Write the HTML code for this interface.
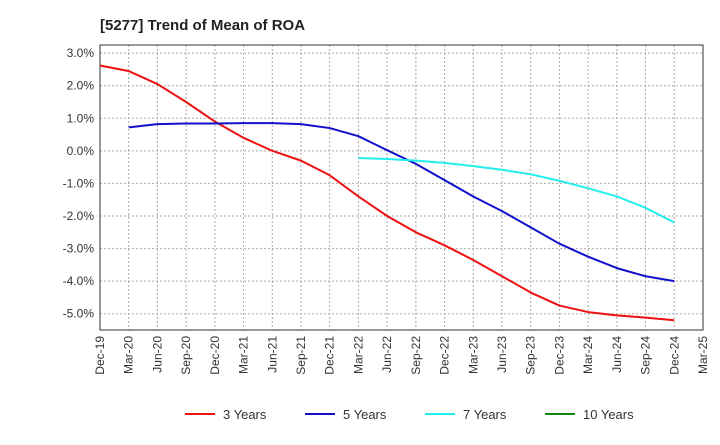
<!DOCTYPE html>
<html><head><meta charset="utf-8"><style>
body{margin:0;background:#fff;font-family:"Liberation Sans",sans-serif;}
text{font-family:"Liberation Sans",sans-serif;}
</style></head><body>
<svg id="chart" width="720" height="440">
<text x="100" y="30" font-size="15" font-weight="bold" fill="#222">[5277]  Trend of Mean of ROA</text>
<g id="grid"></g><g id="axes"></g><g id="series"></g><g id="legend"></g>
</svg>
<script>
const xLabels=["Dec-19","Mar-20","Jun-20","Sep-20","Dec-20","Mar-21","Jun-21","Sep-21","Dec-21","Mar-22","Jun-22","Sep-22","Dec-22","Mar-23","Jun-23","Sep-23","Dec-23","Mar-24","Jun-24","Sep-24","Dec-24","Mar-25"];
const yTicks=[3,2,1,0,-1,-2,-3,-4,-5];
const s3=[2.62,2.45,2.05,1.5,0.9,0.4,0.0,-0.3,-0.75,-1.4,-2.0,-2.5,-2.9,-3.35,-3.85,-4.35,-4.75,-4.95,-5.05,-5.12,-5.2];
const s5=[null,0.72,0.82,0.84,0.84,0.85,0.85,0.82,0.7,0.45,0.02,-0.4,-0.9,-1.4,-1.85,-2.35,-2.85,-3.25,-3.6,-3.85,-4.0];
const s7=[null,null,null,null,null,null,null,null,null,-0.22,-0.25,-0.3,-0.37,-0.47,-0.58,-0.72,-0.92,-1.15,-1.4,-1.75,-2.2];
const s10=[];
const NS="http://www.w3.org/2000/svg";
const L=100,R=703,T=45,B=330,yMin=-5.5,yMax=3.25;
const xs=i=>L+i*(R-L)/(xLabels.length-1);
const ys=v=>B-(v-yMin)/(yMax-yMin)*(B-T);
function mk(tag,attrs,parent){const e=document.createElementNS(NS,tag);for(const k in attrs)e.setAttribute(k,attrs[k]);parent.appendChild(e);return e;}
const grid=document.getElementById('grid'),axes=document.getElementById('axes'),series=document.getElementById('series'),legend=document.getElementById('legend');
yTicks.forEach(v=>{
 const g=mk('line',{x1:L,x2:R,y1:ys(v),y2:ys(v),stroke:'#aaa','stroke-dasharray':'2,2'},grid);
 
 
 const t=mk('text',{x:L-6,y:ys(v)+4,'text-anchor':'end','font-size':12,fill:'#333'},axes);
 t.textContent=v.toFixed(1)+'%';
 
 
});
xLabels.forEach((lab,i)=>{
 const g=mk('line',{x1:xs(i),x2:xs(i),y1:T,y2:B,stroke:'#aaa','stroke-dasharray':'2,2'},grid);
 
 
 const t=mk('text',{x:0,y:0,'text-anchor':'end','font-size':12,fill:'#333',transform:`translate(${xs(i)+4},${B+6}) rotate(-90)`},axes);
 t.textContent=lab;
 
 
});
const fr=mk('rect',{x:L,y:T,width:R-L,height:B-T,fill:'none',stroke:'#333'},axes);


function line(data,color,name){
 let d='';data.forEach((v,i)=>{if(v==null)return;d+=(d?'L':'M')+xs(i)+','+ys(v);});
 if(!d)return;
 const p=mk('path',{d:d,fill:'none',stroke:color,'stroke-width':2,'stroke-linejoin':'round'},series);
 
 
}
line(s3,'#ee1111','line-3-years');line(s5,'#1111cc','line-5-years');line(s7,'#22eeee','line-7-years');line(s10,'#118811','line-10-years');
[['3 Years','#ee1111',185],['5 Years','#1111cc',305],['7 Years','#22eeee',425],['10 Years','#118811',545]].forEach(([n,c,x])=>{
 const l=mk('line',{x1:x,x2:x+30,y1:414,y2:414,stroke:c,'stroke-width':2},legend);
 
 
 const t=mk('text',{x:x+38,y:419,'font-size':13,fill:'#333'},legend);
 t.textContent=n;
 
 
});
</script>
</body></html>
